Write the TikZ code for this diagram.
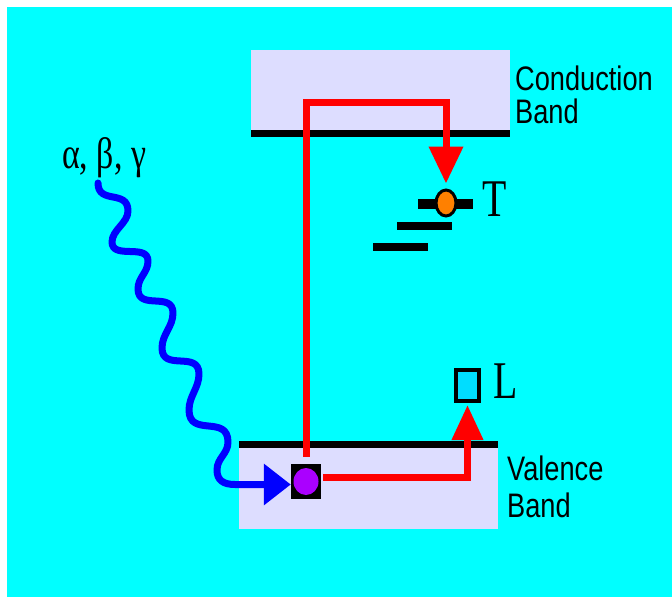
\documentclass[tikz,border=0pt]{standalone}
\usepackage{fontspec}
\setmainfont{Liberation Serif}
\newfontfamily\labelsans{Liberation Sans}
\usetikzlibrary{arrows.meta,shapes.geometric}
\definecolor{bgcyan}{RGB}{0,255,255}
\definecolor{bandfill}{RGB}{221,221,255}
\definecolor{elecpur}{RGB}{170,0,255}
\definecolor{traporange}{RGB}{255,128,0}
\definecolor{lumblue}{RGB}{0,221,255}
\begin{document}
\begin{tikzpicture}[x=1pt,y=-1pt,
  bandbox/.style={rectangle, fill=bandfill, draw=none, inner sep=0pt, outer sep=0pt},
  bandline/.style={line width=7pt, black},
  redpath/.style={line width=7pt, red},
  bluepath/.style={line width=7pt, blue, line join=round, line cap=round},
  trapbar/.style={line width=8pt, black},
  bandlabel/.style={font=\labelsans\fontsize{34}{34}\selectfont, anchor=base west, inner sep=0pt},
  serlabel/.style={font=\fontsize{53}{53}\selectfont, anchor=base west, inner sep=0pt},
]
\useasboundingbox (0,0) rectangle (672,597);
\fill[white] (0,0) rectangle (672,597);
\fill[bgcyan] (7,7) rectangle (672,597);

% bands
\node[bandbox, minimum width=259pt, minimum height=83pt] (cb) at (380.5,91.5) {};
\draw[bandline] (cb.south west) -- (cb.south east);
\node[bandbox, minimum width=259pt, minimum height=85pt] (vb) at (368.5,486.5) {};
\draw[bandline] (vb.north west) -- (vb.north east);

% trap levels
\draw[trapbar, line width=10pt] (418,204) -- (473,204);
\draw[trapbar] (397,225.5) -- (452,225.5);
\draw[trapbar] (373,247) -- (428,247);
\node[ellipse, draw=black, line width=3pt, fill=traporange, minimum width=20pt, minimum height=26pt, inner sep=0pt] (t) at (446,203) {};

% electron in valence band
\node[rectangle, fill=black, minimum width=30pt, minimum height=35pt, inner sep=0pt] (e) at (306,481.5) {};
\fill[elecpur] (e.center) ellipse [x radius=12.5pt, y radius=13.5pt];

% luminescence centre
\node[rectangle, draw=black, line width=4pt, fill=lumblue, minimum width=23pt, minimum height=31pt, inner sep=0pt] (l) at (467.5,385.5) {};

% red transitions
\draw[redpath, -{Triangle[length=37pt,width=33pt]}] ([yshift=7pt]e.north) -- ++(0,-354) -| ([yshift=5pt]t.north);
\draw[redpath, -{Triangle[length=35pt,width=30pt]}] ([xshift=2pt,yshift=4.5pt]e.east) -| ([yshift=-2pt]l.south);

% incoming radiation
\coordinate (w0) at (98,183);
\draw[bluepath, -{Triangle[length=27pt,width=40pt]}] (w0)
  .. controls +(0,22) and +(0,-22) .. (128,211)
  .. controls +(0,12) and +(0,-12) .. (112,242)
  .. controls +(0,18) and +(0,-18) .. (148,261)
  .. controls +(0,12) and +(0,-12) .. (138,289)
  .. controls +(0,22) and +(0,-22) .. (173,313)
  .. controls +(0,14) and +(0,-14) .. (162,348)
  .. controls +(0,24) and +(0,-24) .. (199,374)
  .. controls +(0,14) and +(0,-14) .. (189,410)
  .. controls +(0,28) and +(0,-28) .. (228,442)
  .. controls +(0,12) and +(0,-12) .. (217,470)
  .. controls +(0,10) and +(-12,0) .. (235,484.5)
  -- ([yshift=-3pt]e.west);

% labels
\node[serlabel, font=\fontsize{44}{44}\selectfont] (rad) at (62,168) {\scalebox{0.77}[1]{α, β, γ}};
\node[serlabel] (tlab) at (482,216) {\scalebox{0.75}[1]{T}};
\node[serlabel] (llab) at (493,398) {\scalebox{0.75}[1]{L}};
\node[bandlabel] (cbl1) at (515,90) {\scalebox{0.8}[1]{Conduction}};
\node[bandlabel] (cbl2) at (515,123) {\scalebox{0.8}[1]{Band}};
\node[bandlabel] (vbl1) at (507,480) {\scalebox{0.8}[1]{Valence}};
\node[bandlabel] (vbl2) at (507,517) {\scalebox{0.8}[1]{Band}};
\end{tikzpicture}
\end{document}
